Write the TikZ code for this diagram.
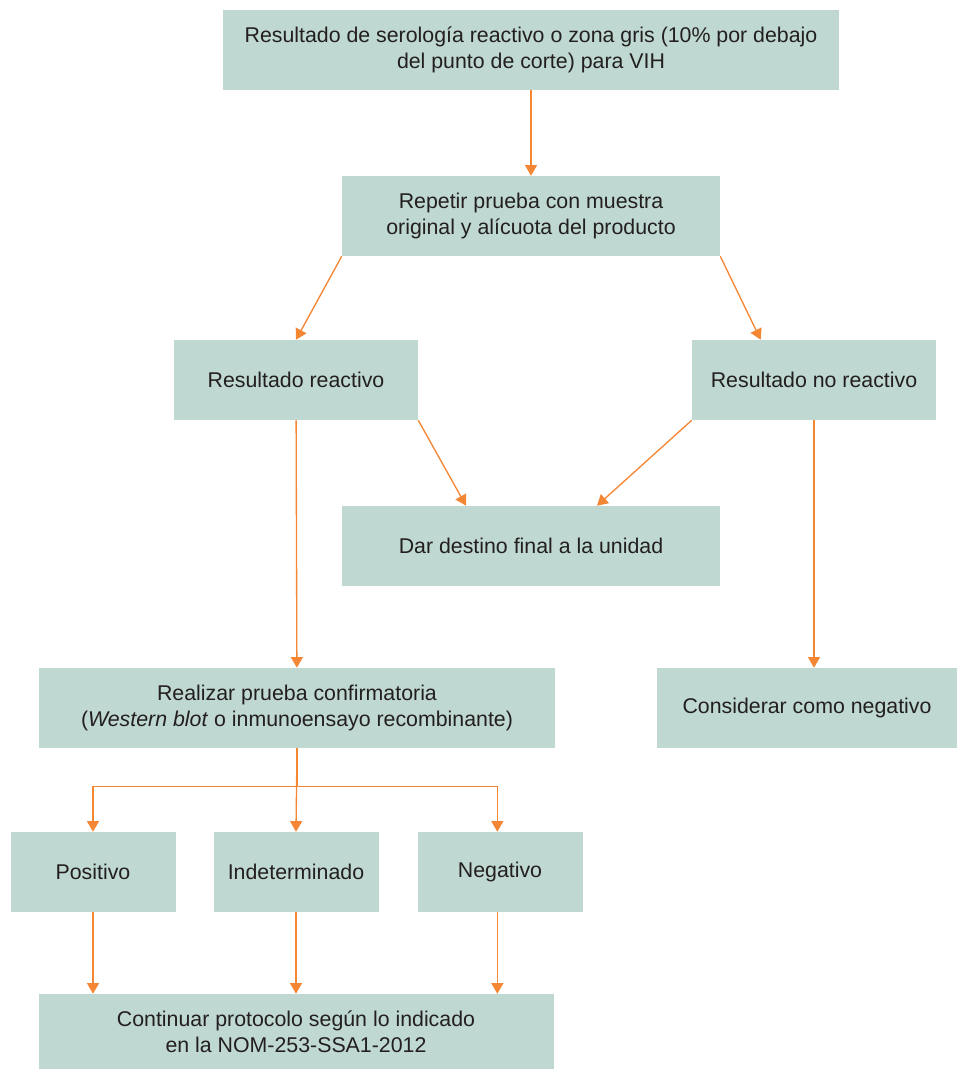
\documentclass[tikz,border=0pt]{standalone}
\usepackage{fontspec}
\setmainfont{Liberation Sans}
\usetikzlibrary{arrows.meta}
\definecolor{boxfill}{HTML}{BFD8D1}
\definecolor{arrowc}{HTML}{F58634}
\definecolor{textc}{HTML}{231F20}
\begin{document}
\begin{tikzpicture}[x=0.75pt,y=-0.75pt]
      \useasboundingbox (0,0) rectangle (957,1069);
      \begin{scope}[every node/.style={rectangle,fill=boxfill,inner sep=0pt,minimum height=60pt,align=center,text=textc,font=\fontsize{16}{19.5}\selectfont}]
        \node[minimum width=462pt] (Sero) at (531, 50) {Resultado de serología reactivo o zona gris (10\% por debajo\\del punto de corte) para VIH};
        \node[minimum width=283.5pt] (Rep) at (531, 216) {Repetir prueba con muestra\\original y alícuota del producto};
        \node[minimum width=183pt] (Reac) at (296, 380) {Resultado reactivo};
        \node[minimum width=183pt] (NoReac) at (814, 380) {Resultado no reactivo};
        \node[minimum width=283.5pt] (Dest) at (531, 546) {Dar destino final a la unidad};
        \node[minimum width=387pt] (Conf) at (297, 708) {Realizar prueba confirmatoria\\(\textit{Western blot} o inmunoensayo recombinante)};
        \node[minimum width=225pt] (Cons) at (807, 708) {Considerar como negativo};
        \node[minimum width=123.75pt] (Pos) at (93, 872) {Positivo};
        \node[minimum width=123.75pt] (Ind) at (296, 872) {Indeterminado};
        \node[minimum width=123.75pt] (Neg) at (500, 872) {Negativo};
        \node[minimum width=386.25pt,minimum height=56.25pt] (Cont) at (296, 1031.5) {Continuar protocolo según lo indicado\\en la NOM-253-SSA1-2012};
      \end{scope}
      \begin{scope}[draw=arrowc,line width=1pt,-{Triangle[width=9pt,length=8pt]}]
        \draw (Sero) -- (Rep);
        \draw (Rep.south west) -- (Reac.north);
        \draw (Rep.south east) -- ([xshift=-40pt]NoReac.north);
        \draw (Reac.south east) -- ([xshift=-48.75pt]Dest.north);
        \draw (NoReac.south west) -- ([xshift=49.5pt]Dest.north);
        \draw (Reac) -- (Conf);
        \draw (NoReac.south) -- (NoReac.south |- Cons.north);
        \draw (Conf.south) -- (Ind.north);
        \draw (Conf.south) -- ++(0,38) -| (Pos.north);
        \draw (Conf.south) -- ++(0,38) -| ([xshift=-2pt]Neg.north);
        \draw (Pos) -- (Pos.south |- Cont.north);
        \draw (Ind) -- (Ind.south |- Cont.north);
        \draw ([xshift=-2pt]Neg.south) -- ([xshift=-2pt]Neg.south |- Cont.north);
      \end{scope}
    \end{tikzpicture}
\end{document}
